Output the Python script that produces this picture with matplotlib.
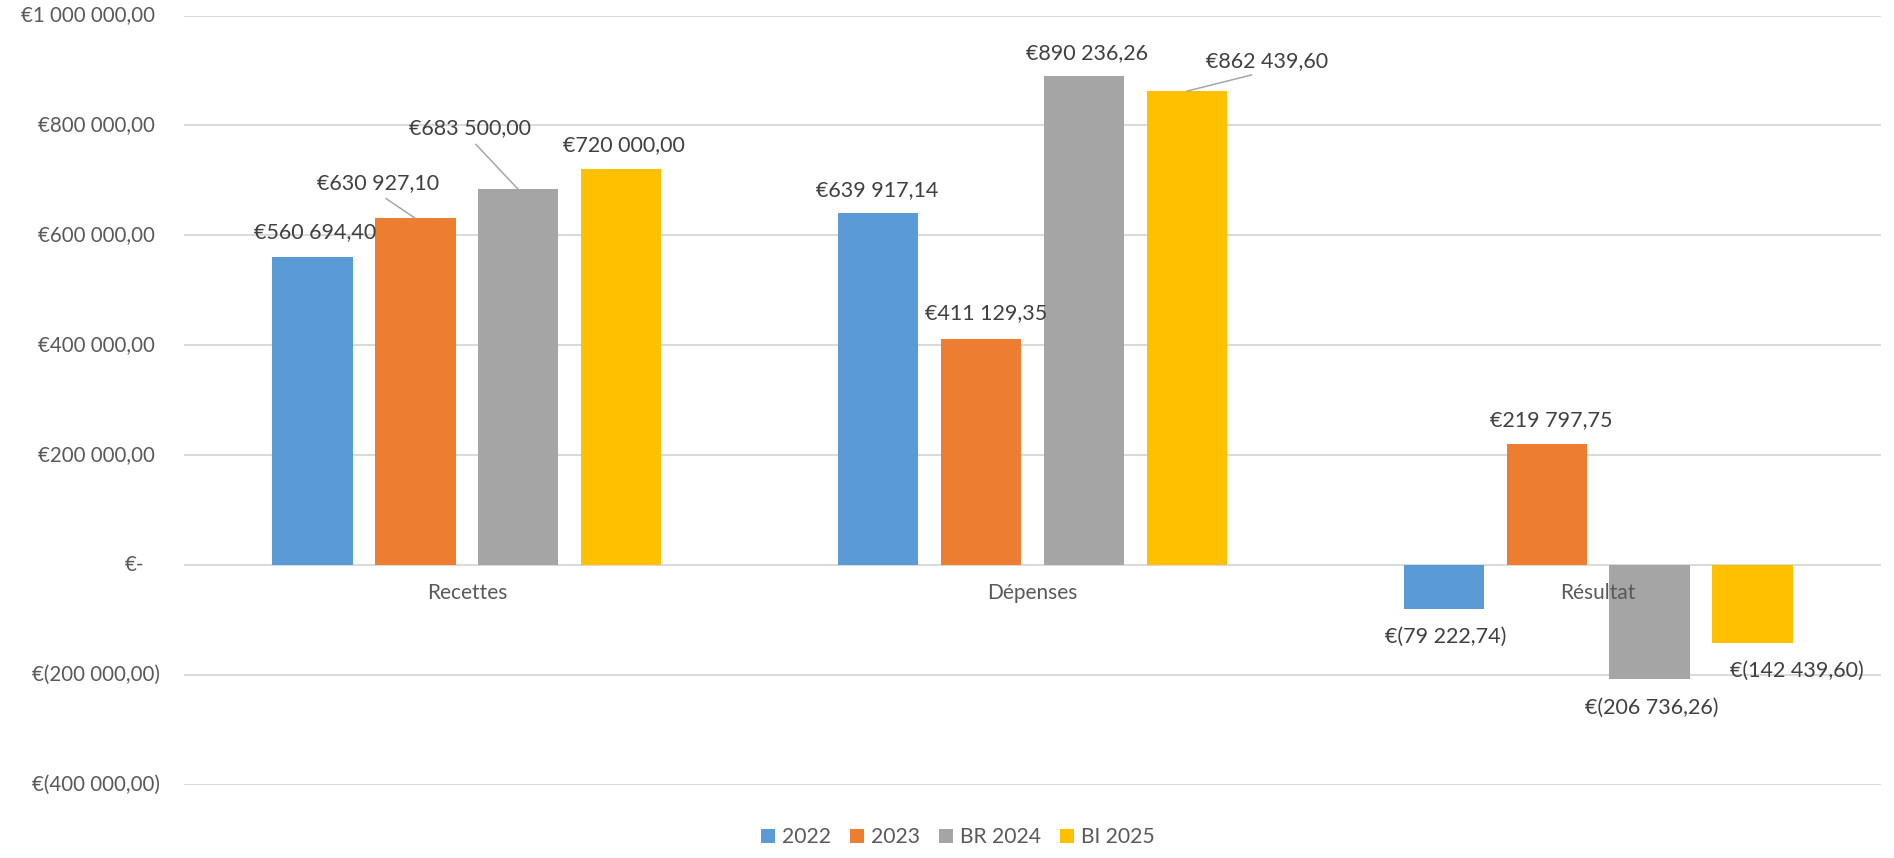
import matplotlib
matplotlib.use('Agg')
import matplotlib.pyplot as plt
from matplotlib.transforms import blended_transform_factory, offset_copy

plt.rcParams['font.family'] = ['Lato', 'DejaVu Sans']

categories = ['Recettes', 'Dépenses', 'Résultat']
series = ['2022', '2023', 'BR 2024', 'BI 2025']
v2022 = [560694.40, 639917.14, -79222.74]
v2023 = [630927.10, 411129.35, 219797.75]
vbr2024 = [683500.00, 890236.26, -206736.26]
vbi2025 = [720000.00, 862439.60, -142439.60]
yticks = [-400000, -200000, 0, 200000, 400000, 600000, 800000, 1000000]

values = [v2022, v2023, vbr2024, vbi2025]
colors = ['#5B9BD5', '#ED7D31', '#A5A5A5', '#FFC000']

# label offsets in pixels (dx, dy) from bar end, and whether a leader line is drawn
label_pos = [
    [(3, 25, False), (-1, 23, False), (2, -28, False)],
    [(-37, 35, True), (5, 26, False), (5, 24, False)],
    [(-48, 61, True), (3, 23, False), (2, -29, False)],
    [(3, 24, False), (80, 30, True), (44, -27, False)],
]


def euro(v):
    if v == 0:
        return '€-'
    s = f'{abs(v):,.2f}'.replace(',', ' ').replace('.', ',')
    return f'€({s})' if v < 0 else f'€{s}'


W, H = 1894, 858
fig = plt.figure(figsize=(W / 100, H / 100), dpi=100)
ax = fig.add_axes([184 / W, 1 - 785 / H, (1881 - 184) / W, (785 - 15.5) / H])

pitch = 0.182
width = 0.142
for i, (name, vals, col) in enumerate(zip(series, values, colors)):
    xs = [c + (i - 1.5) * pitch for c in range(len(categories))]
    ax.bar(xs, vals, width=width, color=col, label=name, zorder=2)
    for x, v, (dx, dy, lead) in zip(xs, vals, label_pos[i]):
        arrow = None
        if lead:
            arrow = dict(arrowstyle='-', color='#A6A6A6', lw=1.1,
                         shrinkA=3, shrinkB=0, relpos=(0.5, 0))
        ax.annotate(euro(v), xy=(x, v), xytext=(dx, dy),
                    textcoords='offset pixels', ha='center', va='center',
                    fontsize=15.5, color='#404040', arrowprops=arrow, zorder=4)

ax.set_xlim(-0.5, 2.5)
ax.set_ylim(-400000, 1000000)
ax.set_yticks(yticks)
ax.tick_params(axis='y', length=0, labelleft=False)
ax.yaxis.grid(True, color='#D9D9D9', lw=1.4)
ax.set_axisbelow(True)

# y labels drawn by hand for accounting-style alignment
base = blended_transform_factory(ax.transAxes, ax.transData)
for t in yticks:
    dx = -24 if t < 0 else (-40 if t == 0 else -29)
    tr = offset_copy(base, fig=fig, x=dx, y=0, units='dots')
    ax.text(0, t, euro(t), transform=tr, ha='right', va='center',
            fontsize=14.8, color='#595959')

ax.set_xticks(range(len(categories)), categories)
ax.spines['bottom'].set_position(('data', 0))
for s in ax.spines.values():
    s.set_visible(False)
ax.tick_params(axis='x', length=0, pad=13, labelsize=15, labelcolor='#595959')
ax.xaxis.set_zorder(5)

fig.legend(loc='center', bbox_to_anchor=(958 / W, 1 - 837 / H), ncol=4,
           frameon=False, fontsize=15.2, labelcolor='#595959',
           handlelength=0.65, handleheight=0.65, handletextpad=0.35,
           columnspacing=0.9)

fig.savefig('out.png', dpi=100)
